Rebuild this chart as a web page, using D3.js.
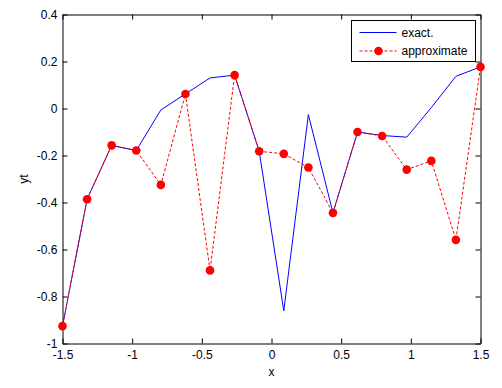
<!DOCTYPE html>
<html>
<head>
<meta charset="utf-8">
<script src="https://cdn.jsdelivr.net/npm/d3@7"></script>
<style>
  body { margin: 0; background: #fff; }
  svg text { font-family: Arial, "Liberation Sans", sans-serif; font-size: 12px; fill: #000; }
</style>
</head>
<body>
<svg id="chart"></svg>
<script>
// Sample positions (18 evenly spaced nodes on [-1.5, 1.5])
const xs = [-1.5, -1.3235, -1.1471, -0.9706, -0.7941, -0.6176, -0.4412, -0.2647, -0.0882,
            0.0882, 0.2647, 0.4412, 0.6176, 0.7941, 0.9706, 1.1471, 1.3235, 1.5];
const exactValues = [-0.926, -0.386, -0.157, -0.179, -0.006, 0.062, 0.130, 0.142, -0.182,
                     -0.861, -0.026, -0.444, -0.100, -0.115, -0.122, 0.004, 0.137, 0.177];
const approxValues = [-0.926, -0.386, -0.157, -0.179, -0.325, 0.062, -0.689, 0.142, -0.182,
                      -0.193, -0.251, -0.444, -0.100, -0.117, -0.260, -0.223, -0.559, 0.177];
const xTicks = [-1.5, -1, -0.5, 0, 0.5, 1, 1.5];
const yTicks = [-1, -0.8, -0.6, -0.4, -0.2, 0, 0.2, 0.4];
const seriesNames = ["exact.", "approximate"];

const dimensions = {
    width: 502,
    height: 388,
    margin: { top: 14.5, bottom: 44.5, left: 62.5, right: 21.5 }
};

const svg = d3.select("#chart")
    .attr("width", dimensions.width)
    .attr("height", dimensions.height);

const xScale = d3.scaleLinear()
    .domain([-1.5, 1.5])
    .range([dimensions.margin.left, dimensions.width - dimensions.margin.right]);
const yScale = d3.scaleLinear()
    .domain([-1, 0.4])
    .range([dimensions.height - dimensions.margin.bottom, dimensions.margin.top]);

const x0 = xScale.range()[0], x1 = xScale.range()[1];
const y0 = yScale.range()[0], y1 = yScale.range()[1];
const fmt = d => String(d);

// Axes with inward ticks, mirrored on top and right
svg.append("g")
    .attr("transform", `translate(0,${y0})`)
    .call(d3.axisBottom(xScale).tickValues(xTicks).tickFormat(fmt).tickSizeInner(-5).tickSizeOuter(0).tickPadding(7));
svg.append("g")
    .attr("transform", `translate(0,${y1})`)
    .call(d3.axisTop(xScale).tickValues(xTicks).tickFormat("").tickSizeInner(-5).tickSizeOuter(0));
svg.append("g")
    .attr("transform", `translate(${x0},0)`)
    .call(d3.axisLeft(yScale).tickValues(yTicks).tickFormat(fmt).tickSizeInner(-5).tickSizeOuter(0).tickPadding(5));
svg.append("g")
    .attr("transform", `translate(${x1},0)`)
    .call(d3.axisRight(yScale).tickValues(yTicks).tickFormat("").tickSizeInner(-5).tickSizeOuter(0));

svg.selectAll(".domain").attr("stroke", "#000").attr("stroke-width", 1);
svg.selectAll(".tick line").attr("stroke", "#000");
svg.selectAll(".tick text").style("font-size", "12px").attr("fill", "#000");

// Axis labels
svg.append("text")
    .attr("x", (x0 + x1) / 2)
    .attr("y", 376)
    .attr("text-anchor", "middle")
    .text("x");
svg.append("text")
    .attr("transform", `translate(28,${(y0 + y1) / 2}) rotate(-90)`)
    .attr("text-anchor", "middle")
    .text("yt");

const line = d3.line()
    .x((d, i) => xScale(xs[i]))
    .y(d => yScale(d));

const plot = svg.append("g");

plot.append("path")
    .datum(exactValues)
    .attr("d", line)
    .attr("fill", "none")
    .attr("stroke", "#0000ff")
    .attr("stroke-width", 1);

plot.append("path")
    .datum(approxValues)
    .attr("d", line)
    .attr("fill", "none")
    .attr("stroke", "#ff0000")
    .attr("stroke-width", 1)
    .attr("stroke-dasharray", "3,2");

plot.selectAll("circle")
    .data(approxValues)
    .enter()
    .append("circle")
    .attr("cx", (d, i) => xScale(xs[i]))
    .attr("cy", d => yScale(d))
    .attr("r", 4.3)
    .attr("fill", "#ff0000");

// Legend
const legend = svg.append("g").attr("transform", "translate(351.5,20.5)");
legend.append("rect")
    .attr("width", 124)
    .attr("height", 41)
    .attr("fill", "#fff")
    .attr("stroke", "#000");

seriesNames.forEach((name, i) => {
    const ly = 12 + i * 18.5;
    legend.append("line")
        .attr("x1", 8).attr("x2", 45)
        .attr("y1", ly).attr("y2", ly)
        .attr("stroke", i === 0 ? "#0000ff" : "#ff0000")
        .attr("stroke-dasharray", i === 0 ? null : "3,2");
    if (i === 1) {
        legend.append("circle")
            .attr("cx", 27).attr("cy", ly).attr("r", 4.3)
            .attr("fill", "#ff0000");
    }
    legend.append("text")
        .attr("x", 50)
        .attr("y", ly + 4)
        .text(name);
});
</script>
</body>
</html>
